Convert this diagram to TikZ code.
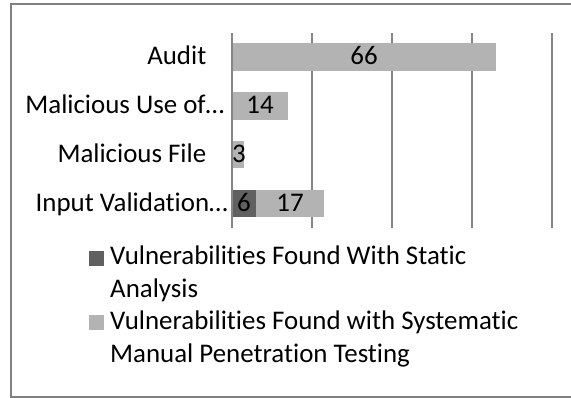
\documentclass[tikz,border=0pt]{standalone}
\usepackage{fontspec}
\setmainfont{Carlito}[RawFeature={-liga;-dlig;-clig}]
\definecolor{barlight}{RGB}{179,179,179}
\definecolor{bardark}{RGB}{96,96,96}
\definecolor{gridgray}{RGB}{134,134,134}
\definecolor{framegray}{RGB}{128,128,128}
\begin{document}
\begin{tikzpicture}[x=1pt,y=-1pt,
  lbl/.style={inner sep=0pt,font=\fontsize{26.9}{32}\selectfont,text=black},
  catlbl/.style={lbl,anchor=base east},
  vallbl/.style={lbl,anchor=base},
  leglbl/.style={lbl,anchor=base west},
  gridline/.style={draw=gridgray,line width=2pt},
  lightbar/.style={fill=barlight},
  darkbar/.style={fill=bardark}]
\useasboundingbox (0,0) rectangle (571,398);
\fill[white] (0,0) rectangle (571,398);
% chart frame (right edge runs past the page)
\draw[draw=framegray,line width=2pt] (590,4) -- (11,4) -- (11,397) -- (590,397);

% vertical gridlines every 20 units (4pt per unit)
\foreach \gx in {232,312,392,472,552}
  \draw[gridline] (\gx,33) -- (\gx,228);

% bars: centre rows at 57, 105.8, 154.6, 203.4
\fill[lightbar] (232,43) rectangle (496,71);
\fill[lightbar] (232,92) rectangle (288,119.6);
\fill[lightbar] (232,141) rectangle (244,168.4);
\fill[darkbar]  (232,190) rectangle (256,217);
\fill[lightbar] (256,190) rectangle (324,217);
\draw[gridline] (232,33) -- (232,228);

% category labels
\node[catlbl] (cAudit) at (206.5,65) {Audit};
\node[catlbl] (cUse)   at (224.5,114) {Malicious Use of…};
\node[catlbl] (cFile)  at (206.5,163) {Malicious File};
\node[catlbl] (cInput) at (228,212) {Input Validation…};

% value labels
\node[vallbl] (vAudit) at (364,65) {66};
\node[vallbl] (vUse)   at (260,114) {14};
\node[vallbl] (vFile)  at (239,163) {3};
\node[vallbl] (vInS)   at (244,212) {6};
\node[vallbl] (vInM)   at (290,212) {17};

% legend
\fill[darkbar]  (89,251) rectangle (104,266);
\fill[lightbar] (89,315) rectangle (104,330);
\node[leglbl] (lg1) at (110,265) {Vulnerabilities Found With Static};
\node[leglbl] (lg2) at (110,297.5) {Analysis};
\node[leglbl] (lg3) at (110,330) {Vulnerabilities Found with Systematic};
\node[leglbl] (lg4) at (110,362.5) {Manual Penetration Testing};
\end{tikzpicture}
\end{document}
